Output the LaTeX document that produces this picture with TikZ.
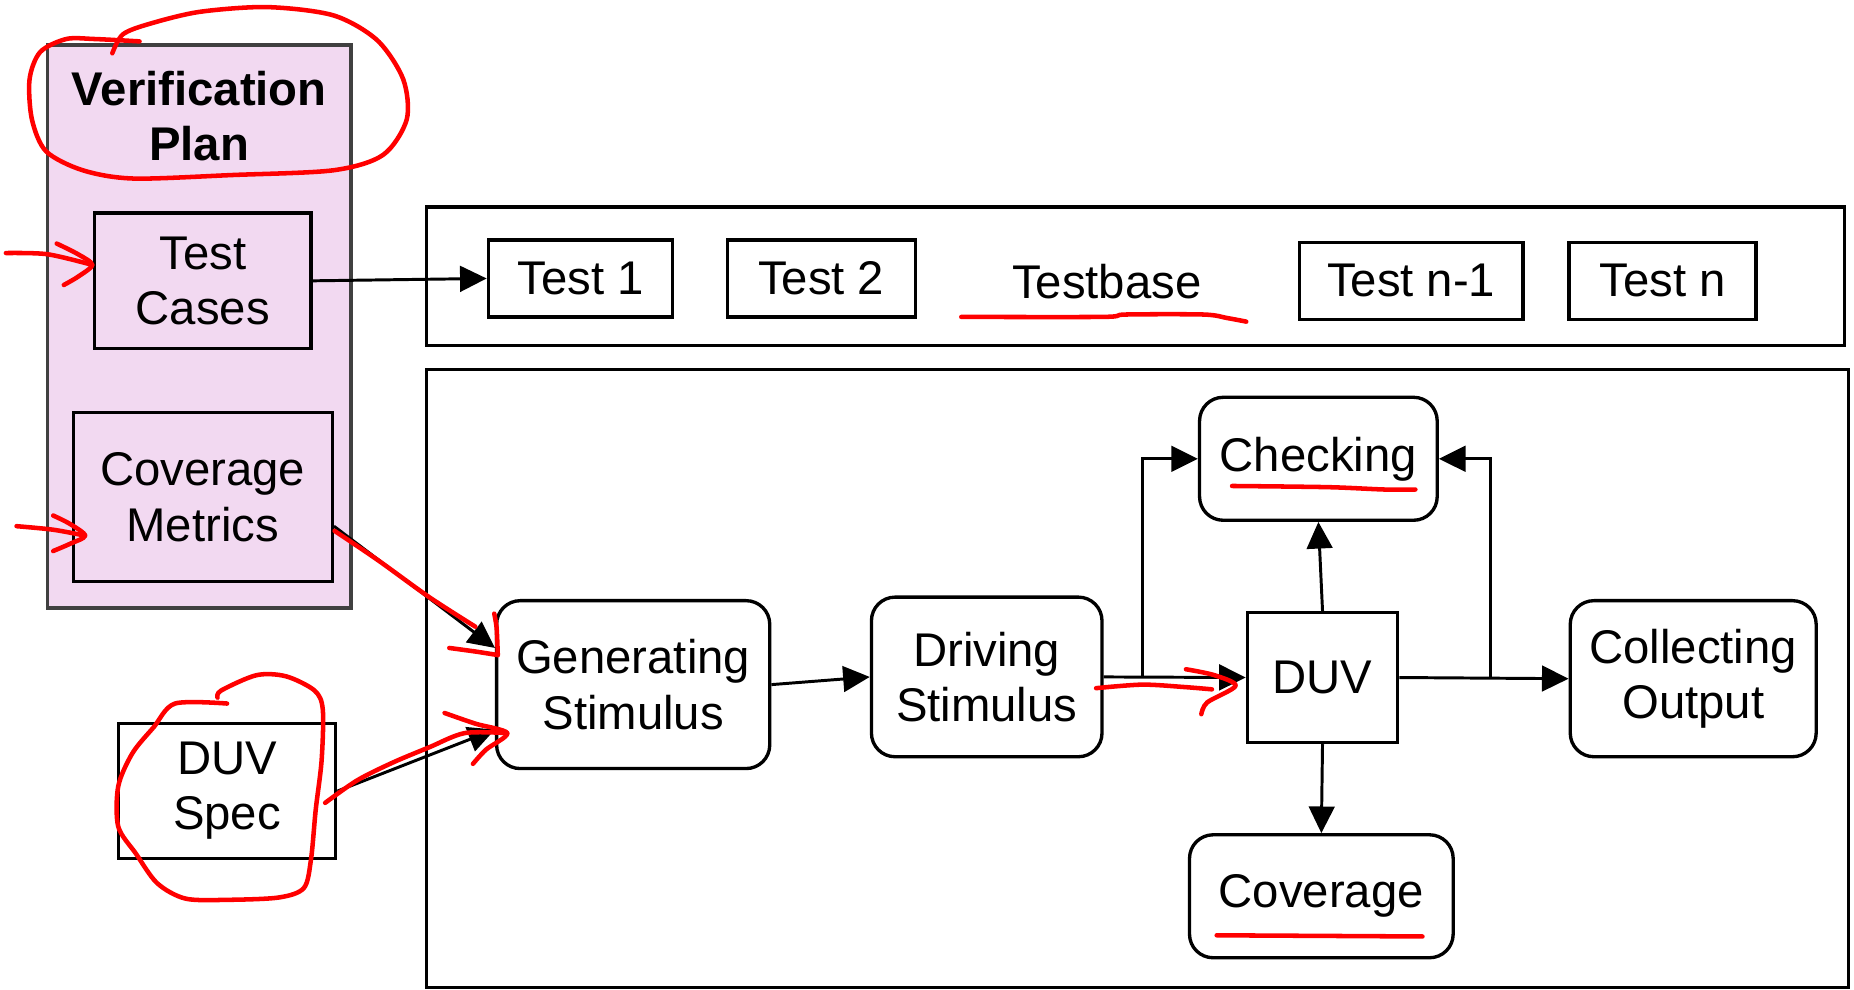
\documentclass[tikz,border=0pt]{standalone}
\usepackage{fontspec}
\setmainfont{Liberation Sans}
\usetikzlibrary{arrows.meta,calc}
\definecolor{vppink}{RGB}{242,217,241}
\definecolor{vpgray}{RGB}{64,64,64}
\definecolor{ink}{RGB}{255,0,0}
\begin{document}
\begin{tikzpicture}[x=0.6pt,y=-0.6pt,
  txt/.style={align=center,inner sep=0pt,font=\fontsize{24}{28}\selectfont},
  box/.style={txt,draw=black,line width=1.7pt},
  rbox/.style={box,rounded corners=12pt},
  arr/.style={line width=1.5pt,-{Triangle[length=13.5pt,width=13pt]}},
  redink/.style={draw=ink,line width=2.3pt,line cap=round,line join=round}]
\useasboundingbox (0,0) rectangle (1568,837);

% Verification plan
\node[draw=vpgray,fill=vppink,line width=1.8pt,minimum width=154.2pt,minimum height=285.6pt,inner sep=0pt] (vp) at (168.5,276) {};
\node[txt,font=\bfseries\fontsize{24}{28}\selectfont] (vpt) at (168.5,98) {Verification\\Plan};
\node[box,minimum width=109.8pt,minimum height=69pt] (tc) at (171.5,237.5) {Test\\Cases};
\node[box,minimum width=131.4pt,minimum height=85.8pt] (cm) at (171.5,420.5) {Coverage\\Metrics};
\node[box,minimum width=110.4pt,minimum height=68.4pt] (spec) at (192,669) {DUV\\Spec};

% Testbase
\node[draw,line width=1.6pt,minimum width=719.4pt,minimum height=70.2pt,inner sep=0pt] (tbc) at (960.5,233.5) {};
\node[box,minimum width=93.6pt,minimum height=39pt] (t1) at (491,235.5) {Test 1};
\node[box,minimum width=95.4pt,minimum height=39pt] (t2) at (694.5,235.5) {Test 2};
\node[txt] (tb) at (936,238) {Testbase};
\node[box,minimum width=113.4pt,minimum height=39pt] (tn1) at (1193.5,237.5) {Test n-1};
\node[box,minimum width=94.8pt,minimum height=39pt] (tn) at (1406,237.5) {Test n};

% Main flow
\node[draw,line width=1.6pt,minimum width=721.2pt,minimum height=313.8pt,inner sep=0pt] (mc) at (962,574) {};
\node[rbox,minimum width=138.6pt,minimum height=85.2pt] (gen) at (535.5,579) {Generating\\Stimulus};
\node[rbox,minimum width=117pt,minimum height=81pt] (drv) at (834.5,572.5) {Driving\\Stimulus};
\node[box,minimum width=76.2pt,minimum height=66pt] (duv) at (1118.5,573) {DUV};
\node[rbox,minimum width=120.6pt,minimum height=62.4pt] (chk) at (1115,388) {Checking};
\node[rbox,minimum width=133.8pt,minimum height=62.4pt] (cov) at (1117.5,758) {Coverage};
\node[rbox,minimum width=124.8pt,minimum height=79.2pt] (col) at (1432,574) {Collecting\\Output};

% Black connectors
\draw[arr] (tc.east) -- (t1.west);
\draw[arr] ($(cm.east)+(0,24.5)$) -- ($(gen.west)+(0,-31)$);
\draw[arr] (spec.east) -- ($(gen.west)+(0,38)$);
\draw[arr] (gen.east) -- (drv.west);
\draw[arr] (drv.east) -- (duv.west);
\draw[arr] (duv.east) -- (col.west);
\coordinate (j1) at ($(drv.east)!0.27!(duv.west)$);
\coordinate (j2) at ($(duv.east)!0.54!(col.west)$);
\draw[arr] (j1) |- (chk.west);
\draw[arr] (j2) |- (chk.east);
\draw[arr] (duv.north) -- (chk.south);
\draw[arr] (duv.south) -- (cov.north);

% Red annotations
\draw[redink] plot[smooth] coordinates {(118,35) (80,33) (56,33) (34,44) (25,67) (27,101) (39,128) (70,144) (113,151) (197,148) (282,144) (324,131) (344,101) (341,67) (319,34) (282,13) (226,6) (169,10) (127,20) (104,29) (95,45)};
\draw[redink] plot[smooth] coordinates {(5,214) (40,215) (78,224)};
\draw[redink] plot[smooth] coordinates {(48,206) (66,215) (78,224) (66,234) (54,241)};
\draw[redink] plot[smooth] coordinates {(14,445) (45,448) (72,453)};
\draw[redink] plot[smooth] coordinates {(45,436) (59,443) (72,453) (59,460) (45,466)};
\draw[redink] plot[smooth] coordinates {(283,449) (320,474) (363,505) (402,530)};
\draw[redink] plot[smooth] coordinates {(418,519) (420,531) (421,554)};
\draw[redink] plot[smooth] coordinates {(380,548) (402,551) (421,554)};
\draw[redink] plot[smooth] coordinates {(192,595) (148,595) (130,615) (112,637) (100,665) (100,699) (115,722) (133,747) (157,760) (193,761) (236,759) (257,751) (263,727) (267,685) (272,643) (273,600) (266,584) (242,572) (217,571) (187,584) (184,590)};
\draw[redink] plot[smooth] coordinates {(275,679) (302,660) (332,645) (363,632) (393,620) (429,620)};
\draw[redink] plot[smooth] coordinates {(376,603) (402,612) (429,620) (411,634) (400,646)};
\draw[redink] plot[smooth] coordinates {(813,268) (933,268) (952,266) (1018,266) (1038,269) (1054,272)};
\draw[redink] plot[smooth] coordinates {(1042,411) (1123,412) (1171,414) (1197,414)};
\draw[redink] (1029,791) -- (1203,792);
\draw[redink] plot[smooth] coordinates {(927,582) (966,579) (1001,581) (1025,583)};
\draw[redink] plot[smooth] coordinates {(1003,566) (1027,571) (1045,580) (1021,594) (1016,604)};
\end{tikzpicture}
\end{document}
